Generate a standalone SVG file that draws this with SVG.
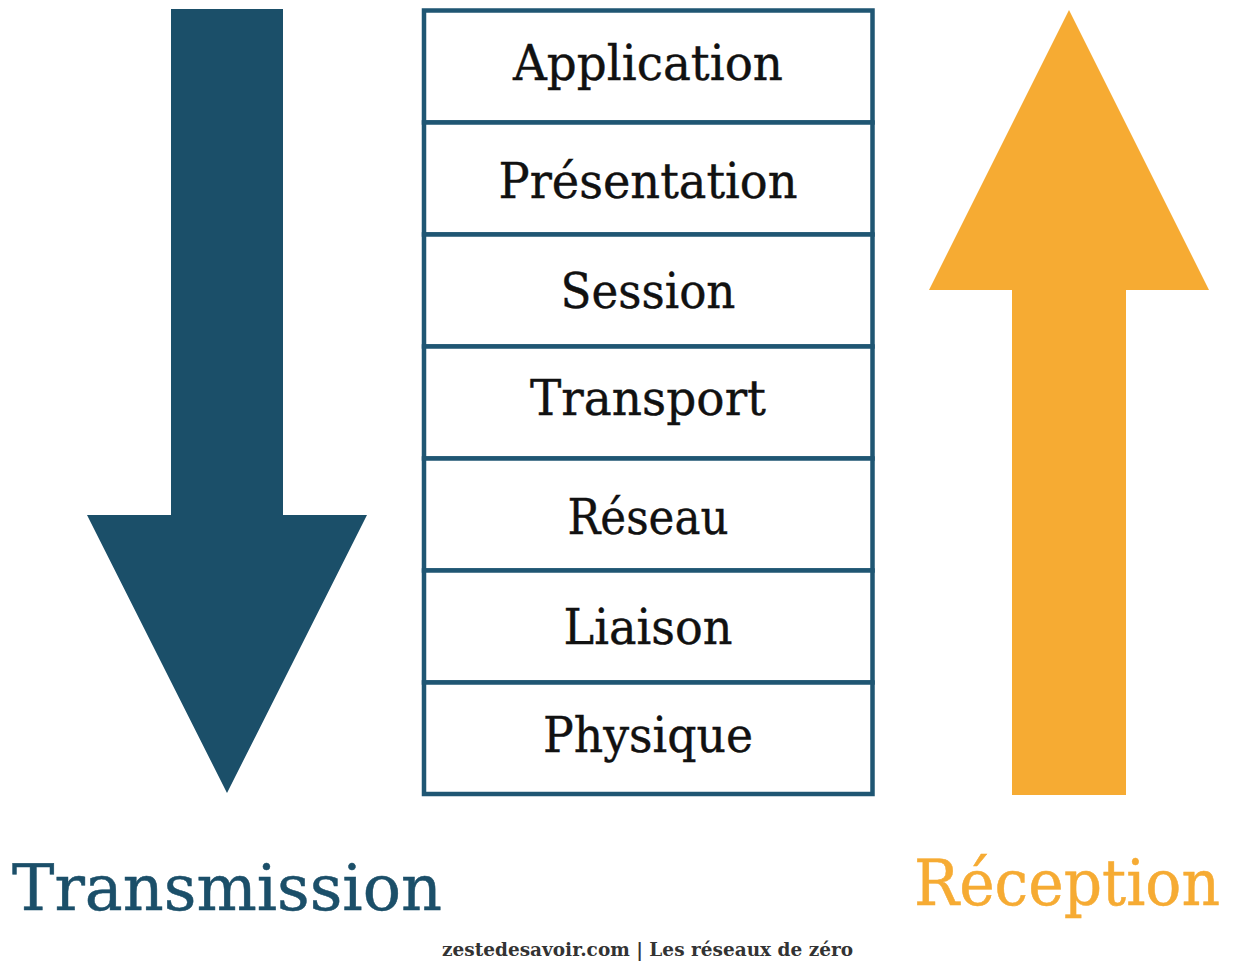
<svg xmlns="http://www.w3.org/2000/svg" width="1234" height="961" viewBox="0 0 1234 961">
<style>
.layer{fill:#ffffff;stroke:#1f5673;stroke-width:4.5}
.lt{font-family:"DejaVu Serif","Liberation Serif",serif;font-size:49px;fill:#111111;stroke:#111111;stroke-width:0.4;text-anchor:middle}
.big{font-family:"DejaVu Serif","Liberation Serif",serif;font-size:64px;stroke-width:0.5}
.foot{font-family:"DejaVu Serif","Liberation Serif",serif;font-size:19px;font-weight:bold;fill:#333333}
</style>
<rect width="1234" height="961" fill="#ffffff"/>
<g id="arrow-transmission">
<polygon points="171,9 283,9 283,515 367,515 227,793 87,515 171,515" fill="#1b4f69"/>
</g>
<g id="arrow-reception">
<polygon points="1069,10 1209,290 1126,290 1126,795 1012,795 1012,290 929,290" fill="#f6ab33"/>
</g>
<g id="stack">
<g id="layer-application"><rect class="layer" x="424" y="10.5" width="448.5" height="112"/><text class="lt" x="648" y="80" textLength="270" lengthAdjust="spacingAndGlyphs">Application</text></g>
<g id="layer-presentation"><rect class="layer" x="424" y="122.5" width="448.5" height="112"/><text class="lt" x="648" y="198" textLength="299" lengthAdjust="spacingAndGlyphs">Présentation</text></g>
<g id="layer-session"><rect class="layer" x="424" y="234.5" width="448.5" height="112"/><text class="lt" x="648" y="308" textLength="175" lengthAdjust="spacingAndGlyphs">Session</text></g>
<g id="layer-transport"><rect class="layer" x="424" y="346.5" width="448.5" height="112"/><text class="lt" x="648" y="415" textLength="236" lengthAdjust="spacingAndGlyphs">Transport</text></g>
<g id="layer-reseau"><rect class="layer" x="424" y="458.5" width="448.5" height="112"/><text class="lt" x="648" y="534" textLength="161" lengthAdjust="spacingAndGlyphs">Réseau</text></g>
<g id="layer-liaison"><rect class="layer" x="424" y="570.5" width="448.5" height="112"/><text class="lt" x="648" y="644" textLength="169" lengthAdjust="spacingAndGlyphs">Liaison</text></g>
<g id="layer-physique"><rect class="layer" x="424" y="682.5" width="448.5" height="111.5"/><text class="lt" x="648" y="752" textLength="210" lengthAdjust="spacingAndGlyphs">Physique</text></g>
</g>
<g id="connectors"></g>
<g id="label-transmission"><text class="big" x="12" y="910" fill="#1b4f69" stroke="#1b4f69" textLength="430" lengthAdjust="spacingAndGlyphs">Transmission</text></g>
<g id="label-reception"><text class="big" x="1067" y="905" fill="#f6ab33" stroke="#f6ab33" font-size="60" text-anchor="middle" textLength="306" lengthAdjust="spacingAndGlyphs">Réception</text></g>
<g id="footer"><text class="foot" x="442" y="956" textLength="411" lengthAdjust="spacingAndGlyphs">zestedesavoir.com | Les réseaux de zéro</text></g>
</svg>
